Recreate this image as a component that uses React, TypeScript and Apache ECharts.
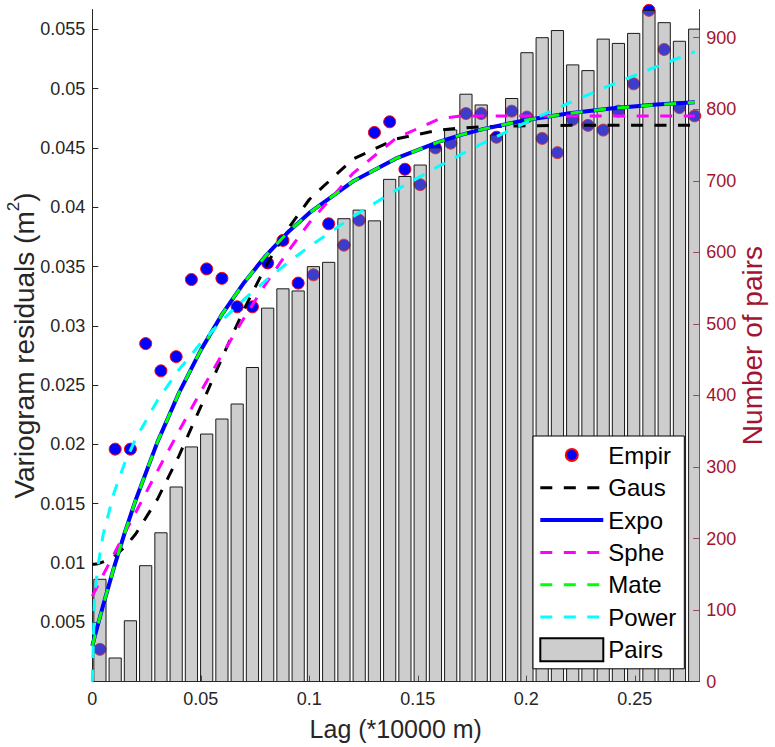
import React, { useEffect, useRef } from 'react';
import * as echarts from 'echarts';

// ---------- data ----------
const lagCenters = [
  0.00351, 0.01054, 0.01757, 0.0246, 0.03163, 0.03865, 0.04568, 0.05271, 0.05974, 0.06677,
  0.0738, 0.08083, 0.08786, 0.09488, 0.10191, 0.10894, 0.11597, 0.123, 0.13003, 0.13705,
  0.14408, 0.15111, 0.15814, 0.16517, 0.1722, 0.17923, 0.18626, 0.19328, 0.20031, 0.20734,
  0.21437, 0.2214, 0.22843, 0.23546, 0.24248, 0.24951, 0.25654, 0.26357, 0.2706, 0.27763,
];
const empirVals = [
  0.00272, 0.0196, 0.0196, 0.0285, 0.0262, 0.0274, 0.0339, 0.0348, 0.034, 0.0316,
  0.0316, 0.0353, 0.0372, 0.0336, 0.0343, 0.0386, 0.0368, 0.0389, 0.0463, 0.0472,
  0.0432, 0.0419, 0.045, 0.0454, 0.0479, 0.0479, 0.0459, 0.0481, 0.0476, 0.0458,
  0.0446, 0.0474, 0.0469, 0.0465, 0.0481, 0.0504, 0.0566, 0.0533, 0.0484, 0.0477,
];
const pairCounts = [
  143, 33, 85, 162, 208, 272, 328, 346, 367, 388,
  439, 522, 549, 546, 580, 586, 647, 659, 644, 702,
  706, 722, 746, 771, 821, 806, 764, 815, 879, 900,
  910, 862, 854, 898, 892, 906, 938, 921, 895, 912,
];
const modelLag = [
  0, 0.001, 0.0025, 0.005, 0.01, 0.015, 0.02, 0.03, 0.04, 0.05, 0.06, 0.07, 0.08, 0.09,
  0.1, 0.12, 0.14, 0.16, 0.17, 0.18, 0.2, 0.22, 0.24, 0.26, 0.2777,
];
const gausVals = [
  0.0099, 0.0099, 0.00994, 0.0101, 0.01055, 0.01135, 0.01244, 0.01537, 0.01906, 0.02318, 0.02739, 0.03142, 0.03504, 0.03813,
  0.04065, 0.04404, 0.04576, 0.04651, 0.04668, 0.04679, 0.04687, 0.0469, 0.0469, 0.0469, 0.0469,
];
const expoVals = [
  0.003, 0.00371, 0.00475, 0.00644, 0.00963, 0.01258, 0.01531, 0.02019, 0.02437, 0.02795, 0.03103, 0.03366, 0.03592, 0.03786,
  0.03952, 0.04216, 0.04411, 0.04553, 0.0461, 0.04658, 0.04736, 0.04792, 0.04834, 0.04865, 0.04885,
];
const spheVals = [
  0.0072, 0.00756, 0.00809, 0.009, 0.01075, 0.01252, 0.01427, 0.01775, 0.02115, 0.02446, 0.02764, 0.03068, 0.03355, 0.03622,
  0.03868, 0.04283, 0.04582, 0.04745, 0.0477, 0.0477, 0.0477, 0.0477, 0.0477, 0.0477, 0.0477,
];
const mateVals = [
  0.003, 0.00371, 0.00475, 0.00644, 0.00963, 0.01258, 0.01531, 0.02019, 0.02437, 0.02795, 0.03103, 0.03366, 0.03592, 0.03786,
  0.03952, 0.04216, 0.04411, 0.04553, 0.0461, 0.04658, 0.04736, 0.04792, 0.04834, 0.04865, 0.04885,
];
const powerVals = [
  0, 0.00692, 0.00964, 0.01239, 0.01592, 0.01845, 0.02047, 0.02371, 0.02632, 0.02854, 0.03048, 0.03224, 0.03383, 0.03531,
  0.03668, 0.03919, 0.04144, 0.04349, 0.04445, 0.04539, 0.04716, 0.04881, 0.05038, 0.05185, 0.05311,
];
const xTicks = [0, 0.05, 0.1, 0.15, 0.2, 0.25];
const xTickLabels = ['0', '0.05', '0.1', '0.15', '0.2', '0.25'];
const leftTicks = [0.005, 0.01, 0.015, 0.02, 0.025, 0.03, 0.035, 0.04, 0.045, 0.05, 0.055];
const leftTickLabels = ['0.005', '0.01', '0.015', '0.02', '0.025', '0.03', '0.035', '0.04', '0.045', '0.05', '0.055'];
const rightTicks = [0, 100, 200, 300, 400, 500, 600, 700, 800, 900];
const rightTickLabels = ['0', '100', '200', '300', '400', '500', '600', '700', '800', '900'];

// ---------- styling constants ----------
const FONT = "'Liberation Sans', Arial, Helvetica, sans-serif";
const AXIS_DARK = '#262626';
const RED = '#a2142f';
const BIN_WIDTH = 0.007028;
const BAR_FRACTION = 0.8;
const BAR_FILL = 'rgba(140,140,140,0.43)';
const DASH = [12, 11.5];
const EMPIR_ICON = 'path://M0,0M63,23M37.5,11.5A6,6,0,1,1,25.5,11.5A6,6,0,1,1,37.5,11.5Z';

function labelFor(ticks: number[], labels: string[], v: number): string {
  for (let i = 0; i < ticks.length; i++) {
    if (Math.abs(ticks[i] - v) < 1e-9) return labels[i];
  }
  return '';
}

function lineSeries(name: string, vals: number[], color: string, width: number, dashed: boolean, z: number) {
  return {
    name,
    type: 'line',
    yAxisIndex: 0,
    data: modelLag.map((x, i) => [x, vals[i]]),
    symbol: 'none',
    showSymbol: false,
    smooth: false,
    color,
    lineStyle: { color, width, type: dashed ? DASH : 'solid', cap: 'butt', join: 'round' },
    z,
    silent: true,
  };
}

const hiddenSymbol = { opacity: 0 };

export default function App() {
  const ref = useRef<HTMLDivElement>(null);
  useEffect(() => {
    if (!ref.current) return;
    const chart = echarts.init(ref.current, undefined, { renderer: 'svg' });
    const option: any = {
      animation: false,
      textStyle: { fontFamily: FONT },
      grid: { left: 92.3, right: 75.8, top: 9.5, bottom: 65.4, containLabel: false, outerBoundsMode: 'none' },
      xAxis: {
        type: 'value',
        min: 0,
        max: 0.2797,
        name: 'Lag (*10000 m)',
        nameLocation: 'middle',
        nameGap: 35,
        nameMoveOverlap: false,
        nameTextStyle: { fontSize: 25, color: AXIS_DARK, fontFamily: FONT },
        axisLine: { show: true, onZero: false, lineStyle: { color: '#5a1525', width: 1 } },
        axisTick: { show: true, inside: true, length: 6, customValues: xTicks, lineStyle: { color: AXIS_DARK } },
        axisLabel: {
          show: true,
          customValues: xTicks,
          margin: 8,
          fontSize: 18,
          color: AXIS_DARK,
          fontFamily: FONT,
          formatter: (v: number) => labelFor(xTicks, xTickLabels, v),
        },
        splitLine: { show: false },
      },
      yAxis: [
        {
          type: 'value',
          position: 'left',
          min: 0,
          max: 0.05667,
          name: '{n|Variogram residuals (m}{s|2}{n|)}',
          nameLocation: 'middle',
          nameGap: 54,
          nameMoveOverlap: false,
          nameTextStyle: {
            color: AXIS_DARK,
            rich: {
              n: { fontSize: 28, lineHeight: 33, verticalAlign: 'bottom', color: AXIS_DARK, fontFamily: FONT },
              s: { fontSize: 17, lineHeight: 17, verticalAlign: 'top', color: AXIS_DARK, fontFamily: FONT },
            },
          },
          axisLine: { show: true, onZero: false, lineStyle: { color: AXIS_DARK, width: 1 } },
          axisTick: { show: true, inside: true, length: 6, customValues: leftTicks, lineStyle: { color: AXIS_DARK } },
          axisLabel: {
            show: true,
            customValues: leftTicks,
            margin: 7,
            fontSize: 18,
            color: AXIS_DARK,
            fontFamily: FONT,
            formatter: (v: number) => labelFor(leftTicks, leftTickLabels, v),
          },
          splitLine: { show: false },
        },
        {
          type: 'value',
          position: 'right',
          min: 0,
          max: 939.4,
          alignTicks: false,
          name: 'Number of pairs',
          nameLocation: 'middle',
          nameGap: 39,
          nameMoveOverlap: false,
          nameTextStyle: { fontSize: 28, color: RED, fontFamily: FONT },
          axisLine: { show: true, onZero: false, lineStyle: { color: RED, width: 1 } },
          axisTick: { show: true, inside: true, length: 6, customValues: rightTicks, lineStyle: { color: RED } },
          axisLabel: {
            show: true,
            customValues: rightTicks,
            margin: 7,
            fontSize: 18,
            color: RED,
            fontFamily: FONT,
            formatter: (v: number) => labelFor(rightTicks, rightTickLabels, v),
          },
          splitLine: { show: false },
        },
      ],
      legend: {
        show: true,
        orient: 'vertical',
        left: 533,
        top: 436,
        backgroundColor: '#ffffff',
        borderColor: '#000000',
        borderWidth: 1,
        borderRadius: 0,
        padding: [6.5, 8, 6.5, 5.3],
        itemWidth: 63,
        itemHeight: 23,
        itemGap: 8.3,
        selectedMode: false,
        z: 10,
        textStyle: { fontSize: 24, color: '#000000', fontFamily: FONT },
        data: [
          { name: 'Empir', icon: EMPIR_ICON },
          { name: 'Gaus', itemStyle: hiddenSymbol, lineStyle: { width: 3 } },
          { name: 'Expo', itemStyle: hiddenSymbol, lineStyle: { width: 4 } },
          { name: 'Sphe', itemStyle: hiddenSymbol, lineStyle: { width: 3 } },
          { name: 'Mate', itemStyle: hiddenSymbol, lineStyle: { width: 3 } },
          { name: 'Power', itemStyle: hiddenSymbol, lineStyle: { width: 3 } },
          { name: 'Pairs', icon: 'rect' },
        ],
      },
      series: [
        {
          name: 'Empir',
          type: 'scatter',
          yAxisIndex: 0,
          data: lagCenters.map((x, i) => [x, empirVals[i]]),
          symbol: 'circle',
          symbolSize: 12,
          itemStyle: { color: '#0000ff', borderColor: '#ff0000', borderWidth: 1, opacity: 1 },
          z: 2,
          silent: true,
        },
        lineSeries('Gaus', gausVals, '#000000', 3, true, 4),
        lineSeries('Expo', expoVals, '#0000ff', 4, false, 4),
        lineSeries('Sphe', spheVals, '#ff00ff', 3, true, 4),
        lineSeries('Mate', mateVals, '#00ff00', 3, true, 4),
        lineSeries('Power', powerVals, '#00ffff', 3, true, 4),
        {
          name: 'Pairs',
          type: 'custom',
          yAxisIndex: 1,
          clip: true,
          z: 3,
          silent: true,
          itemStyle: { color: BAR_FILL, borderColor: '#000000', borderWidth: 1 },
          encode: { x: 0, y: 1 },
          data: lagCenters.map((x, i) => [x, pairCounts[i]]),
          renderItem: (params: any, api: any) => {
            const x = api.value(0) as number;
            const c = api.value(1) as number;
            const half = (BIN_WIDTH * BAR_FRACTION) / 2;
            const tl = api.coord([x - half, c]);
            const br = api.coord([x + half, 0]);
            return {
              type: 'rect',
              shape: { x: tl[0], y: tl[1], width: br[0] - tl[0], height: br[1] - tl[1] },
              style: { fill: BAR_FILL, stroke: '#1a1a1a', lineWidth: 1 },
            };
          },
        },
      ],
    };
    chart.setOption(option);
    return () => {
      chart.dispose();
    };
  }, []);
  return (
    <div
      ref={ref}
      style={{ position: 'absolute', left: 0, top: 0, width: 775, height: 747, background: '#ffffff' }}
    />
  );
}
